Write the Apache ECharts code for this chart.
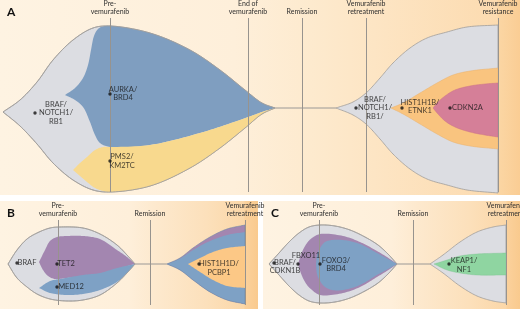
<!DOCTYPE html>
<html><head><meta charset="utf-8">
<script src="https://cdn.jsdelivr.net/npm/echarts@6/dist/echarts.min.js"></script>
<style>html,body{margin:0;padding:0;background:#fff}#c{width:520px;height:309px}</style>
</head><body><div id="c"></div>
<script>
// ================= DATA =================
// Timepoints (x = time position, arbitrary units)
const timeLabelsA = ['Pre-\nvemurafenib','End of\nvemurafenib','Remission','Vemurafenib\nretreatment','Vemurafenib\nresistance'];
const timeA = [110, 248, 302, 366, 498];
const timeLabelsB = ['Pre-\nvemurafenib','Remission','Vemurafenib\nretreatment'];
const timeB = [58, 150, 245];
const timeLabelsC = ['Pre-\nvemurafenib','Remission','Vemurafenib\nretreatment'];
const timeC = [319, 413, 506];

// Clone boundaries: [time, offset from centre line] (upper edge / lower edge)
// Panel A
const A_braf_top = [[3,-4],[20,8],[37,26],[53,48],[73,68],[93,80],[110,82],[150,75],[190,58],[220,38],[245,18],[262,5],[275,0]];
const A_braf_bot = [[3,-4],[20,-18],[37,-36],[53,-55],[73,-72],[93,-82],[110,-84],[150,-78],[190,-60],[220,-40],[245,-20],[262,-6],[275,0]];
const A_aurka_top = [[65,13],[75,20],[83,30],[88,43],[91,58],[94,72],[98,79],[105,82],[150,75],[190,58],[220,38],[245,18],[262,5],[275,0]];
const A_aurka_bot = [[65,13],[75,8],[83,1],[90,-14],[95,-27],[100,-35],[110,-39],[150,-37],[200,-25],[240,-12],[262,-4],[275,0]];
const A_pms2_top = [[73,-62],[80,-55],[87,-49],[95,-42],[103,-39],[110,-39],[150,-37],[200,-25],[240,-12],[262,-4],[275,0]];
const A_pms2_bot = [[73,-62],[80,-68],[87,-74],[95,-80],[103,-83],[110,-84],[150,-78],[190,-60],[220,-40],[245,-20],[262,-6],[275,0]];
const A_braf2_top = [[336,0],[353,6],[366,15],[380,30],[393,45],[410,60],[427,70],[447,76],[467,81],[498,83]];
const A_braf2_bot = [[336,0],[353,-7],[366,-16],[380,-31],[393,-46],[410,-61],[427,-71],[447,-77],[467,-82],[498,-85]];
const A_hist_top = [[391,0],[403,5],[420,15],[437,25],[453,33],[470,37],[498,40]];
const A_hist_bot = [[391,0],[403,-6],[420,-16],[437,-26],[453,-34],[470,-38],[498,-41]];
const A_cdkn_top = [[433,0],[438,6],[445,12],[455,18],[470,22],[485,24],[498,25]];
const A_cdkn_bot = [[433,0],[438,-6],[445,-13],[455,-19],[470,-24],[485,-27],[498,-29]];
const A_link = [[275,0],[336,0]];

// Panel B
const B_braf_top = [[8,0],[17,14],[27,25],[37,31],[50,36],[60,37],[83,36],[100,30],[117,19],[127,9],[135,0]];
const B_braf_bot = [[8,0],[17,-14],[27,-23],[37,-30],[50,-35],[67,-37],[83,-36],[100,-31],[117,-19],[127,-9],[135,0]];
const B_tet2_top = [[39,2],[45,14],[50,23],[57,27],[67,28],[83,28],[100,25],[117,14],[127,7],[135,0]];
const B_tet2_bot = [[39,2],[43,-6],[48,-12],[55,-15],[67,-14],[83,-12],[100,-10],[117,-5],[135,0]];
const B_med12_top = [[39,-24],[50,-17],[60,-15],[83,-11],[100,-9],[117,-4],[135,0]];
const B_med12_bot = [[39,-24],[50,-29],[67,-31],[83,-30],[100,-26],[117,-18],[127,-9],[135,0]];
const B_tet2r_top = [[167,0],[180,6],[193,16],[210,27],[227,35],[245,39]];
const B_tet2r_bot = [[167,0],[180,-6],[193,-16],[210,-28],[227,-36],[245,-40]];
const B_med12r_top = [[167,0],[180,5.5],[193,14],[210,23],[227,29],[245,32]];
const B_med12r_bot = [[167,0],[180,-6],[193,-16],[210,-28],[227,-36],[245,-40]];
const B_hist_top = [[188,0],[200,6],[213,12],[227,16],[245,18]];
const B_hist_bot = [[188,0],[200,-8],[213,-16],[227,-22],[245,-24]];
const B_link = [[135,0],[167,0]];

// Panel C
const C_braf_top = [[269,0],[279,11],[289,22],[299,31],[309,37],[320,39],[335,38],[350,34],[365,27],[378,19],[388,10],[397,0]];
const C_braf_bot = [[269,0],[279,-11],[289,-22],[299,-31],[309,-37],[320,-39],[335,-38],[350,-34],[365,-27],[378,-19],[388,-10],[397,0]];
const C_fbxo_top = [[298,0],[302,12],[307,21],[312,26],[320,30],[343,28],[360,22],[377,13],[390,5],[397,0]];
const C_fbxo_bot = [[298,0],[302,-12],[307,-21],[312,-26],[320,-31],[343,-29],[360,-23],[377,-13],[390,-5],[397,0]];
const C_foxo_top = [[316,0],[317,9],[320,16],[325,22],[332,24],[343,24],[360,20],[377,11],[390,4],[397,0]];
const C_foxo_bot = [[316,0],[317,-10],[320,-17],[325,-23],[332,-26],[343,-26],[360,-21],[377,-11],[390,-4],[397,0]];
const C_braf2_top = [[430,0],[443,9],[460,22],[477,32],[493,37],[506,39]];
const C_braf2_bot = [[430,0],[443,-9],[460,-22],[477,-32],[493,-37],[506,-39]];
const C_keap_top = [[434,0],[447,4],[460,8],[477,10],[506,11]];
const C_keap_bot = [[434,0],[447,-6],[460,-9],[477,-11],[506,-11]];
const C_link = [[397,0],[430,0]];

// Clone labels and bullet positions
const clonesA = ['BRAF/\nNOTCH1/\nRB1','AURKA/\nBRD4','PMS2/\nKM2TC','BRAF/\nNOTCH1/\nRB1/','HIST1H1B/\nETNK1','CDKN2A'];
const cloneAx = [35,110,110,356,402,450];
const cloneAy = [-5,14,-53,0,0,0];
const clonesB = ['BRAF','TET2','MED12','HIST1H1D/\nPCBP1'];
const cloneBx = [17,57,57,199];
const cloneBy = [1,0,-23,0];
const clonesC = ['BRAF/\nCDKN1B','FBXO11','FOXO3/\nBRD4','KEAP1/\nNF1'];
const cloneCx = [274,298,320,449];
const cloneCy = [1,0,0,0];

// ================= STYLE / LAYOUT =================
const COL = {
  gray:'#dcdde2', grayLine:'#9f9d9b', blue:'#7f9ec0', yellow:'#f8d98e',
  orange:'#f9c47f', pink:'#d57f98', purple:'#a386b0', blueB:'#7ea1c5',
  orangeB:'#fcc886', green:'#8fd5a1', tline:'#97938e'
};
const labelOffA = [[21,0],[13,-0.5],[12,0],[19,0],[18,-1.5],[17.5,0]];
const labelOffB = [[10,0],[9,0],[14,0],[20,4]];
const labelOffC = [[11,3.5],[8,-8],[16,0.5],[15,1]];

const FONT = 'Lato, "Open Sans", sans-serif';

const shapes = [
  [
    {t:A_braf_top,b:A_braf_bot,fill:COL.gray,stroke:COL.grayLine,w:0.8},
    {t:A_aurka_top,b:A_aurka_bot,fill:COL.blue},
    {t:A_pms2_top,b:A_pms2_bot,fill:COL.yellow},
    {t:A_braf_top,b:A_braf_bot,fill:'none',stroke:COL.grayLine,w:0.8},
    {t:A_braf2_top,b:A_braf2_bot,fill:COL.gray,stroke:COL.grayLine,w:0.8},
    {t:A_hist_top,b:A_hist_bot,fill:COL.orange,stroke:'#e9b06c',w:0.5},
    {t:A_cdkn_top,b:A_cdkn_bot,fill:COL.pink,stroke:'#c86f88',w:0.5}
  ],
  [
    {t:B_braf_top,b:B_braf_bot,fill:COL.gray,stroke:COL.grayLine,w:0.8},
    {t:B_tet2_top,b:B_tet2_bot,fill:COL.purple},
    {t:B_med12_top,b:B_med12_bot,fill:COL.blueB},
    {t:B_braf_top,b:B_braf_bot,fill:'none',stroke:COL.grayLine,w:0.8},
    {t:B_tet2r_top,b:B_tet2r_bot,fill:COL.purple},
    {t:B_med12r_top,b:B_med12r_bot,fill:COL.blueB},
    {t:B_tet2r_top,b:B_tet2r_bot,fill:'none',stroke:'#6f87a6',w:0.6},
    {t:B_hist_top,b:B_hist_bot,fill:COL.orangeB}
  ],
  [
    {t:C_braf_top,b:C_braf_bot,fill:COL.gray,stroke:COL.grayLine,w:0.8},
    {t:C_fbxo_top,b:C_fbxo_bot,fill:COL.purple},
    {t:C_foxo_top,b:C_foxo_bot,fill:COL.blueB},
    {t:C_braf_top,b:C_braf_bot,fill:'none',stroke:COL.grayLine,w:0.8},
    {t:C_braf2_top,b:C_braf2_bot,fill:COL.gray,stroke:COL.grayLine,w:0.8},
    {t:C_keap_top,b:C_keap_bot,fill:COL.green,stroke:'#7cc290',w:0.4}
  ]
];

// centripetal Catmull-Rom through pixel points
function spline(pts){
  const n = pts.length, out = [];
  if (n < 2) return pts.slice();
  const ext = [
    [2*pts[0][0]-pts[1][0], 2*pts[0][1]-pts[1][1]],
    ...pts,
    [2*pts[n-1][0]-pts[n-2][0], 2*pts[n-1][1]-pts[n-2][1]]
  ];
  const dist = (p,q)=>Math.max(Math.pow(Math.hypot(q[0]-p[0],q[1]-p[1]),0.5),1e-3);
  const L = (p,q,a,b,t)=>[ (b-t)/(b-a)*p[0]+(t-a)/(b-a)*q[0], (b-t)/(b-a)*p[1]+(t-a)/(b-a)*q[1] ];
  for (let i=1;i<ext.length-2;i++){
    const p0=ext[i-1],p1=ext[i],p2=ext[i+1],p3=ext[i+2];
    const t0=0,t1=t0+dist(p0,p1),t2=t1+dist(p1,p2),t3=t2+dist(p2,p3);
    const steps=12;
    for (let k=0;k<steps;k++){
      const t=t1+(t2-t1)*k/steps;
      const A1=L(p0,p1,t0,t1,t),A2=L(p1,p2,t1,t2,t),A3=L(p2,p3,t2,t3,t);
      const B1=L(A1,A2,t0,t2,t),B2=L(A2,A3,t1,t3,t);
      out.push(L(B1,B2,t1,t2,t));
    }
  }
  out.push(pts[n-1]);
  return out;
}

function makeRender(p){
  return function(params, api){
    const s = shapes[p][api.value(2)];
    const top = spline(s.t.map(q=>api.coord(q)));
    const bot = spline(s.b.map(q=>api.coord(q)));
    const pts = top.concat(bot.reverse());
    return {
      type:'polygon',
      shape:{points:pts},
      style:{fill:s.fill, stroke:s.stroke||null, lineWidth:s.w||0}
    };
  };
}

function grad(stops){
  return {type:'linear',x:0,y:0,x2:1,y2:0,colorStops:stops.map(s=>({offset:s[0],color:s[1]}))};
}
const bgA = grad([[0,'#fef3e2'],[0.45,'#feefda'],[0.6,'#fdeace'],[0.72,'#fde5c4'],[0.955,'#fcdbb0'],[0.958,'#fbd6a4'],[1,'#facd94']]);
const bgBC = grad([[0,'#fef3e2'],[0.5,'#feefda'],[0.6,'#fde9ce'],[0.8,'#fce0bb'],[0.945,'#fbd7a8'],[0.95,'#fbd19c'],[1,'#f9ca8e']]);

function timeLines(xs, labels, y0, y1){
  return {
    silent:true, symbol:['none','none'],
    lineStyle:{color:COL.tline,width:1,type:'solid'},
    label:{show:true,position:'end',distance:2,fontSize:7,lineHeight:8.5,color:'#2e2e2e',fontFamily:FONT,
      formatter:(p)=>p.name},
    emphasis:{disabled:true},
    data: xs.map((x,i)=>[{coord:[x,y0],name:labels[i]},{coord:[x,y1]}])
  };
}

function cloneSeries(gi, names, xs, ys, offs){
  return {
    type:'scatter', xAxisIndex:gi, yAxisIndex:gi, symbol:'circle', symbolSize:3.4,
    itemStyle:{color:'#111'}, silent:true, z:10,
    data: names.map((n,i)=>({
      value:[xs[i],ys[i]], name:n,
      label:{show:true,position:'inside',offset:offs[i],align:'center',verticalAlign:'middle',
        formatter:n,fontSize:7.5,lineHeight:8.5,color:'#151515',fontFamily:FONT}
    }))
  };
}

function linkSeries(gi, data, xs, labels, y0, y1){
  return {
    type:'line', xAxisIndex:gi, yAxisIndex:gi, data:data, symbol:'none', silent:true, z:1,
    lineStyle:{color:'#9a9896',width:1}, markLine: timeLines(xs, labels, y0, y1)
  };
}

const chart = echarts.init(document.getElementById('c'), null, {renderer:'canvas'});
chart.setOption({
  animation:false,
  backgroundColor:'#ffffff',
  title:[
    {text:'A',left:7,top:6,padding:0,textStyle:{fontSize:12,fontWeight:'bold',color:'#111',fontFamily:FONT}},
    {text:'B',left:7,top:207,padding:0,textStyle:{fontSize:12,fontWeight:'bold',color:'#111',fontFamily:FONT}},
    {text:'C',left:271,top:207,padding:0,textStyle:{fontSize:12,fontWeight:'bold',color:'#111',fontFamily:FONT}}
  ],
  grid:[
    {left:0,top:0,width:520,height:195,show:true,borderWidth:0,backgroundColor:bgA},
    {left:0,top:201,width:258,height:108,show:true,borderWidth:0,backgroundColor:bgBC},
    {left:263,top:201,width:257,height:108,show:true,borderWidth:0,backgroundColor:bgBC}
  ],
  xAxis:[
    {gridIndex:0,type:'value',min:0,max:520,show:false},
    {gridIndex:1,type:'value',min:0,max:258,show:false},
    {gridIndex:2,type:'value',min:263,max:520,show:false}
  ],
  yAxis:[
    {gridIndex:0,type:'value',min:-87,max:108,show:false},
    {gridIndex:1,type:'value',min:-45,max:63,show:false},
    {gridIndex:2,type:'value',min:-45,max:63,show:false}
  ],
  series:[
    linkSeries(0, A_link, timeA, timeLabelsA, -84, 90),
    linkSeries(1, B_link, timeB, timeLabelsB, -41, 44),
    linkSeries(2, C_link, timeC, timeLabelsC, -41, 44),
    ...[0,1,2].map(p=>({
      type:'custom', xAxisIndex:p, yAxisIndex:p, silent:true, z:2,
      encode:{x:0,y:1},
      data: shapes[p].map((s,i)=>[s.t[0][0], s.t[0][1], i]),
      renderItem: makeRender(p)
    })),
    cloneSeries(0, clonesA, cloneAx, cloneAy, labelOffA),
    cloneSeries(1, clonesB, cloneBx, cloneBy, labelOffB),
    cloneSeries(2, clonesC, cloneCx, cloneCy, labelOffC)
  ]
});
</script></body></html>
